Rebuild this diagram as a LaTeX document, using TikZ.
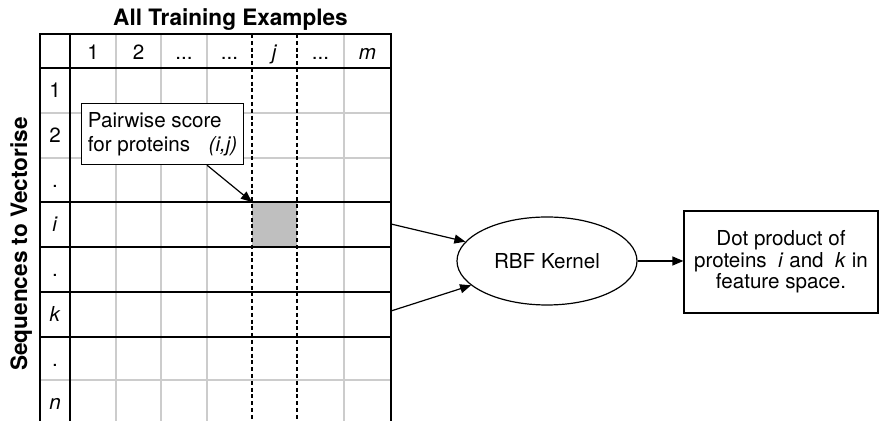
\documentclass[tikz,border=0pt]{standalone}
\usepackage{fontspec}
\setmainfont{TeX Gyre Heros}
\usetikzlibrary{arrows.meta, shapes.geometric, positioning, calc}
\newcommand{\elide}{...}

\begin{document}
\begin{tikzpicture}[x=0.5pt, y=-0.5pt,
        every node/.style={font=\fontsize{10.3}{12}\selectfont},
        thin grid/.style={draw=gray!40, line width=0.6pt},
        thick grid/.style={draw=black, line width=0.9pt},
        jline/.style={draw=black, line width=0.8pt, dash pattern=on 2pt off 1.4pt},
        cell/.style={fill=gray!50, minimum size=22.5pt, inner sep=0pt},
        arr/.style={-{Triangle[length=5.5pt, width=4.5pt]}, line width=0.6pt},
        headline/.style={font=\fontsize{11.3}{13}\selectfont\bfseries}]

        \useasboundingbox (0,0) rectangle (880,421);

        % Vẽ lưới mờ của bảng
        \foreach \x in {116,161,207,344} \draw[thin grid] (\x,34) -- (\x,421);
        \foreach \y in {113,158,380} \draw[thin grid] (40,\y) -- (391,\y);

        % Ô (i,j) được tô xám
        \node[cell, anchor=north west] (pij) at (252,202) {};

        % Cột j kẻ nét đứt
        \foreach \x in {252,297} \draw[jline] (\x,34) -- (\x,421);

        % Viền và các hàng i, k
        \draw[thick grid] (40,421) -- (40,34) -- (391,34) -- (391,421);
        \draw[thick grid] (70,34) -- (70,421);
        \foreach \y in {68,202,247,292,337} \draw[thick grid] (40,\y) -- (391,\y);

        % Nhãn cột và nhãn hàng
        \foreach \x/\t in {93/1, 138.5/2, 184/\elide, 229.5/\elide, 274.5/\textit{j}, 320.5/\elide, 367.5/\textit{m}}
                \node[anchor=base] at (\x,60) {\t};
        \foreach \y/\t in {98/1, 143/2, 188/., 232/\textit{i}, 277/., 322/\textit{k}, 367/., 410/\textit{n}}
                \node[anchor=base] at (55,\y) {\t};

        % Tiêu đề hai trục
        \node[headline, anchor=base] (title) at (230.5,26) {All Training Examples};
        \node[headline, anchor=base, rotate=90] (seq) at (27,244) {Sequences to Vectorise};

        % Hộp chú thích
        \node[draw, fill=white, line width=0.6pt, align=left, anchor=north west,
                inner xsep=2.5pt, minimum width=81pt, minimum height=30.5pt] (note) at (81,103)
                {Pairwise score\\for proteins\hspace{0.9em}\textit{(i,j)}};
        \draw[arr] (note.-35) -- (pij.north west);

        % Nhân RBF và kết quả
        \node[ellipse, draw, line width=0.6pt, minimum width=90pt, minimum height=44pt] (rbf) at (547,261) {RBF Kernel};
        \node[draw, line width=0.6pt, align=center, minimum width=97pt, minimum height=51pt,
                font=\fontsize{10.3}{10.8}\selectfont] (dot) at (781,262)
                {Dot product of\\proteins\ \ \textit{i} and\ \ \textit{k} in\\feature space.};

        \coordinate (rowi) at (391,224);
        \coordinate (rowk) at (391,311);
        \draw[arr] (rowi) -- (rbf);
        \draw[arr] (rowk) -- (rbf);
        \draw[arr] (rbf.east) -- (rbf.east -| dot.west);

\end{tikzpicture}
\end{document}
